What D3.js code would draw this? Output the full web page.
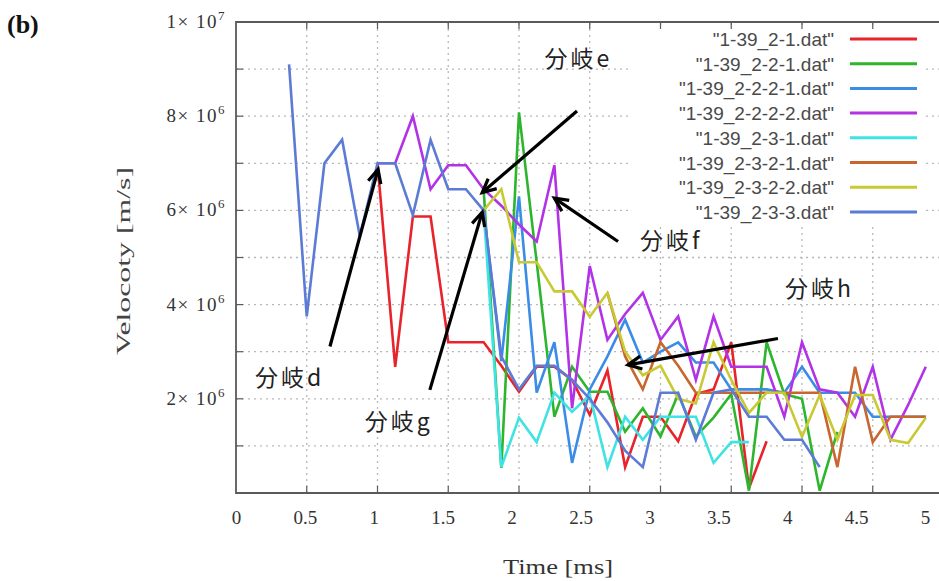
<!DOCTYPE html>
<html>
<head>
<meta charset="utf-8">
<script src="https://cdn.jsdelivr.net/npm/d3@7"></script>
<style>
  body { margin: 0; background: #fff; }
  svg { display: block; }
</style>
</head>
<body>
<svg id="chart" width="939" height="581"></svg>
<script>
// time axis [ms], one sample every 0.125 ms
var times = [0.375, 0.5, 0.625, 0.75, 0.875, 1.0, 1.125, 1.25, 1.375, 1.5, 1.625, 1.75,
  1.875, 2.0, 2.125, 2.25, 2.375, 2.5, 2.625, 2.75, 2.875, 3.0, 3.125, 3.25, 3.375,
  3.5, 3.625, 3.75, 3.875, 4.0, 4.125, 4.25, 4.375, 4.5, 4.625, 4.75, 4.875]

var seriesNames = ['"1-39_2-1.dat"', '"1-39_2-2-1.dat"', '"1-39_2-2-2-1.dat"', '"1-39_2-2-2-2.dat"',
  '"1-39_2-3-1.dat"', '"1-39_2-3-2-1.dat"', '"1-39_2-3-2-2.dat"', '"1-39_2-3-3.dat"']
var seriesColors = ['#e8232b', '#2eb52e', '#3a8ce6', '#b233e6', '#3fe3e3', '#c9652e', '#c9c934', '#5b7bd5']

// velocity, x 10^6 m/s (null = no sample)
var v21 = [null, null, null, null, null, 7.0, 2.68, 5.87, 5.87, 3.2, 3.2, 3.2, 2.7, 2.15, 2.68, 2.68,
  2.4, 1.66, 2.6, 0.55, 1.62, 1.62, 1.1, 2.1, 2.2, 3.2, 0.1, 1.1,
  null, null, null, null, null, null, null, null, null]
var v221 = [null, null, null, null, null, null, null, null, null, null, null, 6.45, 0.53, 8.08, 4.9, 1.62,
  2.68, 2.15, 2.15, 1.3, 1.8, 1.2, 2.1, 1.2, 1.6, 2.1, 0.05, 3.2, 2.1, 2.0, 0.05, 1.3,
  null, null, null, null, null]
var v2221 = [null, null, null, null, null, null, null, null, null, null, null, 6.0, 2.8, 6.3, 2.13, 3.2,
  0.64, 2.2, 2.9, 3.68, 2.77, 3.0, 3.2, 2.77, 2.77, 2.2, 2.2, 2.2, 2.13, 2.68, 2.13, 2.13,
  2.13, 1.62, 1.62, 1.62, 1.62]
var v2222 = [null, null, null, null, null, 7.0, 7.0, 8.0, 6.45, 6.96, 6.96, 6.45, 6.1, 5.7, 5.34, 6.96,
  1.8, 4.82, 3.25, 3.8, 4.25, 3.25, 3.75, 2.4, 3.75, 2.68, 2.68, 2.68, 1.62, 3.2, 2.2, 2.13,
  1.62, 2.68, 1.13, 1.87, 2.68]
var v231 = [null, null, null, null, null, null, null, null, null, null, null, 6.0, 0.55, 1.6, 1.08, 2.13,
  1.72, 2.08, 0.55, 1.62, 1.13, 1.62, 1.62, 1.62, 0.64, 1.08, 1.08,
  null, null, null, null, null, null, null, null, null, null]
var v2321 = [null, null, null, null, null, null, null, null, null, null, null, null, null, null, null, null,
  null, null, 4.25, 2.9, 2.2, 3.2, 2.7, 2.13, 2.13, 2.13, 2.13, 2.13, 2.13, 2.13, 2.13, 0.55,
  2.68, 1.08, 1.62, 1.62, 1.62]
var v2322 = [null, null, null, null, null, null, null, null, null, null, null, 6.0, 6.45, 4.9, 4.9, 4.28,
  4.28, 3.74, 4.25, 3.0, 2.5, 2.7, 2.0, 1.9, 3.2, 2.4, 1.7, 2.13, 2.13, 1.19, 2.08, 1.13,
  2.08, 2.08, 1.13, 1.06, 1.6]
var v233 = [9.1, 3.75, 7.0, 7.5, 5.45, 7.0, 7.0, 5.9, 7.5, 6.45, 6.45, 6.0, 2.9, 2.2, 2.7, 2.7,
  2.4, 2.0, 1.5, 0.9, 0.55, 2.13, 2.13, 1.13, 2.13, 2.2, 1.62, 1.62, 1.13, 1.13, 0.55,
  null, null, null, null, null, null]
var seriesValues = [v21, v221, v2221, v2222, v231, v2321, v2322, v233]

var xTicks = [0, 0.5, 1, 1.5, 2, 2.5, 3, 3.5, 4, 4.5, 5]
var yGrid = [1, 2, 3, 4, 5, 6, 7, 8, 9, 10]
var yLabelTicks = [2, 4, 6, 8, 10]
var yLabelMant = ['2', '4', '6', '8', '1']
var yLabelExp = ['6', '6', '6', '6', '7']

// branch annotations: label and arrow (tail -> head), in data units
var branchLabels = ['分岐d', '分岐e', '分岐f', '分岐g', '分岐h']
var labelAt = [[0.134, 2.28], [2.18, 9.04], [2.855, 5.17], [0.91, 1.34], [3.88, 4.17]]
var arrowFrom = [[0.664, 3.11], [2.41, 8.11], [2.70, 5.34], [1.37, 2.19], [3.83, 3.28]]
var arrowTo = [[1.004, 6.87], [1.74, 6.38], [2.25, 6.26], [1.74, 5.96], [2.77, 2.72]]

var svg = d3.select('#chart')
var x = d3.scaleLinear().domain([0, 5]).range([236, 943.5])
// the printed tick numbers sit a bit left of their ticks in the original
var xLab = d3.scaleLinear().domain([0, 5]).range([236, 925])
var y = d3.scaleLinear().domain([0, 10]).range([493, 22])
var serif = '"Liberation Serif", "DejaVu Serif", serif'

// dotted grid
var grid = svg.append('g')
    .attr('stroke', '#b8b8b8')
    .attr('stroke-width', 1.3)
    .attr('stroke-dasharray', '2,4')
grid.selectAll('.gv')
    .data(xTicks.filter(function(d) { return d > 0 }))
    .enter().append('line')
    .attr('x1', function(d) { return x(d) })
    .attr('x2', function(d) { return x(d) })
    .attr('y1', y(0))
    .attr('y2', y(10))
grid.selectAll('.gh')
    .data(yGrid.slice(0, -1))
    .enter().append('line')
    .attr('x1', x(0))
    .attr('x2', 939)
    .attr('y1', function(d) { return y(d) })
    .attr('y2', function(d) { return y(d) })

// legend box hides the grid behind it
svg.append('rect')
    .attr('x', 630).attr('y', 27)
    .attr('width', 292).attr('height', 196)
    .attr('fill', '#fff')

// frame
var frame = svg.append('g').attr('stroke', '#5a5a5a').attr('fill', 'none')
frame.append('path')
    .attr('stroke-width', 1.8)
    .attr('d', 'M939,' + y(10) + 'H' + x(0) + 'V' + y(0) + 'H939')

// inward ticks
frame.selectAll('.ty')
    .data(yGrid)
    .enter().append('line')
    .attr('stroke-width', 1.2)
    .attr('x1', x(0)).attr('x2', x(0) + 7)
    .attr('y1', function(d) { return y(d) })
    .attr('y2', function(d) { return y(d) })
frame.selectAll('.tb')
    .data(xTicks.filter(function(d) { return d > 0 }))
    .enter().append('line')
    .attr('stroke-width', 1.2)
    .attr('x1', function(d) { return x(d) })
    .attr('x2', function(d) { return x(d) })
    .attr('y1', y(0)).attr('y2', y(0) - 7)
frame.selectAll('.tt')
    .data(xTicks.filter(function(d) { return d > 0 }))
    .enter().append('line')
    .attr('stroke-width', 1.2)
    .attr('x1', function(d) { return x(d) })
    .attr('x2', function(d) { return x(d) })
    .attr('y1', y(10)).attr('y2', y(10) + 7)

// x tick labels
svg.append('g')
    .attr('transform', 'translate(0,' + y(0) + ')')
    .call(d3.axisBottom(xLab).tickValues(xTicks).tickSize(0).tickPadding(18)
        .tickFormat(function(d) { return String(d) }))
    .call(function(g) { g.select('.domain').remove() })
    .selectAll('text')
    .attr('font-family', serif)
    .attr('font-size', 19)
    .attr('fill', '#333')

// y tick labels  "n× 10^k"
var yl = svg.append('g')
    .attr('font-family', serif)
    .attr('font-size', 19)
    .attr('letter-spacing', 1.5)
    .attr('fill', '#333')
    .attr('text-anchor', 'end')
yLabelTicks.forEach(function(d, i) {
  var t = yl.append('text')
      .attr('x', x(0) - 10)
      .attr('y', y(d) + 6)
  t.append('tspan').text(yLabelMant[i] + '×  10')
  t.append('tspan').attr('font-size', 13).attr('dy', -8).text(yLabelExp[i])
})

// axis titles
svg.append('text')
    .attr('x', 503).attr('y', 574)
    .attr('font-family', serif)
    .attr('font-size', 21)
    .attr('textLength', 110)
    .attr('lengthAdjust', 'spacingAndGlyphs')
    .attr('fill', '#333')
    .text('Time [ms]')
svg.append('text')
    .attr('transform', 'translate(130,355) rotate(-90)')
    .attr('font-family', serif)
    .attr('font-size', 18)
    .attr('textLength', 188)
    .attr('lengthAdjust', 'spacingAndGlyphs')
    .attr('fill', '#444')
    .text('Velocoty [m/s]')

svg.append('text')
    .attr('x', 7).attr('y', 33)
    .attr('font-family', serif)
    .attr('font-size', 26)
    .attr('font-weight', 'bold')
    .attr('fill', '#111')
    .text('(b)')

// data lines
var line = d3.line()
    .defined(function(d) { return d.v != null })
    .x(function(d) { return x(d.t) })
    .y(function(d) { return y(d.v) })

seriesValues.forEach(function(vals, i) {
  var pts = vals.map(function(v, k) { return { t: times[k], v: v } })
  svg.append('path')
      .datum(pts)
      .attr('fill', 'none')
      .attr('stroke', seriesColors[i])
      .attr('stroke-width', 2.6)
      .attr('stroke-linejoin', 'miter')
      .attr('d', line)
})

// legend
var leg = svg.append('g')
    .attr('font-family', '"Liberation Sans", Arial, sans-serif')
    .attr('font-size', 19)
    .attr('fill', '#4a4a4a')
seriesNames.forEach(function(name, i) {
  var ry = 39 + i * 24.7
  leg.append('text')
      .attr('x', 834).attr('y', ry + 7)
      .attr('text-anchor', 'end')
      .text(name)
  leg.append('line')
      .attr('x1', 850).attr('x2', 917)
      .attr('y1', ry).attr('y2', ry)
      .attr('stroke', seriesColors[i])
      .attr('stroke-width', 3)
})

// branch arrows and labels
var ann = svg.append('g')
branchLabels.forEach(function(lbl, i) {
  var x1 = x(arrowFrom[i][0]), y1 = y(arrowFrom[i][1])
  var x2 = x(arrowTo[i][0]), y2 = y(arrowTo[i][1])
  var a = Math.atan2(y2 - y1, x2 - x1)
  var hl = 15, hw = 0.45
  var head = 'M' + (x2 - hl * Math.cos(a - hw)) + ',' + (y2 - hl * Math.sin(a - hw)) +
      'L' + x2 + ',' + y2 +
      'L' + (x2 - hl * Math.cos(a + hw)) + ',' + (y2 - hl * Math.sin(a + hw))
  ann.append('line')
      .attr('x1', x1).attr('y1', y1).attr('x2', x2).attr('y2', y2)
      .attr('stroke', '#000').attr('stroke-width', 3.2)
  ann.append('path')
      .attr('d', head)
      .attr('fill', 'none').attr('stroke', '#000').attr('stroke-width', 3.2)
  ann.append('text')
      .attr('x', x(labelAt[i][0])).attr('y', y(labelAt[i][1]))
      .attr('font-family', '"Noto Sans CJK JP", "Noto Sans", sans-serif')
      .attr('font-size', 23)
      .attr('letter-spacing', 3)
      .attr('fill', '#222')
      .text(lbl)
})
</script>
</body>
</html>
